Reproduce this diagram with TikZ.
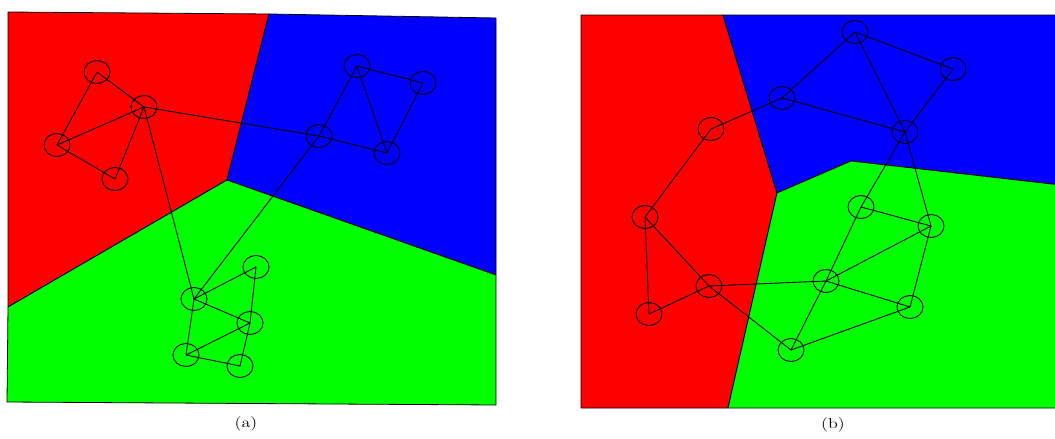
\documentclass[tikz,border=0pt]{standalone}
\usepackage{fontspec}
\usepackage{tikz}
\usetikzlibrary{shapes.geometric}

\begin{document}
\begin{tikzpicture}[
  x=1pt, y=-1pt,
  reg/.style={draw=black, line width=0.8pt, line join=round},
  vtx/.style={draw, ellipse, minimum width=26pt, minimum height=23pt, inner sep=0pt, line width=0.9pt},
  e/.style={line width=0.9pt},
  sublabel/.style={font=\fontsize{14.5}{17}\selectfont, xscale=1.25, transform shape}
]
\useasboundingbox (0,0) rectangle (1055,439);
\clip (0,0) rectangle (1055,439);
% (a)
\filldraw[reg, fill=red] (8,12) -- (269,14) -- (227,180) -- (8,307) -- cycle;
\filldraw[reg, fill=blue] (269,14) -- (496,18) -- (496,275) -- (227,180) -- cycle;
\filldraw[reg, fill=green] (8,307) -- (227,180) -- (496,275) -- (496,405) -- (7,402) -- cycle;
\node[vtx] (a1) at (97,72) {};
\node[vtx] (a2) at (144,107) {};
\node[vtx] (a3) at (57,145) {};
\node[vtx] (a4) at (115,179) {};
\node[vtx] (b1) at (357,66) {};
\node[vtx] (b2) at (423,83) {};
\node[vtx] (b3) at (319,136) {};
\node[vtx] (b4) at (387,153) {};
\node[vtx] (g1) at (194,299) {};
\node[vtx] (g2) at (256,267) {};
\node[vtx] (g3) at (250,323) {};
\node[vtx] (g4) at (186,355) {};
\node[vtx] (g5) at (240,366) {};
\draw[e] (a1.center) -- (a2.center);
\draw[e] (a1.center) -- (a3.center);
\draw[e] (a3.center) -- (a2.center);
\draw[e] (a3.center) -- (a4.center);
\draw[e] (a4.center) -- (a2.center);
\draw[e] (a2.center) -- (b3.center);
\draw[e] (a2.center) -- (g1.center);
\draw[e] (b1.center) -- (b2.center);
\draw[e] (b2.center) -- (b4.center);
\draw[e] (b1.center) -- (b4.center);
\draw[e] (b1.center) -- (b3.center);
\draw[e] (b3.center) -- (b4.center);
\draw[e] (b3.center) -- (g1.center);
\draw[e] (g1.center) -- (g2.center);
\draw[e] (g2.center) -- (g3.center);
\draw[e] (g3.center) -- (g5.center);
\draw[e] (g1.center) -- (g3.center);
\draw[e] (g3.center) -- (g4.center);
\draw[e] (g1.center) -- (g4.center);
\draw[e] (g4.center) -- (g5.center);
\node[sublabel] (capa) at (246,424) {(a)};
% (b)
\filldraw[reg, fill=red] (581,15) -- (723,15) -- (777,193) -- (728,408) -- (581,408) -- cycle;
\filldraw[reg, fill=blue] (723,15) -- (1065,15) -- (1065,185.5) -- (851,161) -- (777,193) -- cycle;
\filldraw[reg, fill=green] (777,193) -- (851,161) -- (1065,185.5) -- (1065,408) -- (728,408) -- cycle;
\node[vtx] (r1) at (711,129) {};
\node[vtx] (r2) at (645,217) {};
\node[vtx] (r3) at (709,286) {};
\node[vtx] (r4) at (649,314) {};
\node[vtx] (u1) at (855,32) {};
\node[vtx] (u2) at (953,69) {};
\node[vtx] (u3) at (782,98) {};
\node[vtx] (u4) at (905,132) {};
\node[vtx] (v1) at (861,207) {};
\node[vtx] (v2) at (931,226) {};
\node[vtx] (v3) at (826,281) {};
\node[vtx] (v4) at (910,307) {};
\node[vtx] (v5) at (791,350) {};
\draw[e] (r1.center) -- (u3.center);
\draw[e] (r1.center) -- (r2.center);
\draw[e] (r2.center) -- (r4.center);
\draw[e] (r2.center) -- (r3.center);
\draw[e] (r4.center) -- (r3.center);
\draw[e] (r3.center) -- (v5.center);
\draw[e] (r3.center) -- (v3.center);
\draw[e] (v5.center) -- (v3.center);
\draw[e] (v3.center) -- (v1.center);
\draw[e] (v1.center) -- (u4.center);
\draw[e] (v1.center) -- (v2.center);
\draw[e] (v2.center) -- (v3.center);
\draw[e] (v3.center) -- (v4.center);
\draw[e] (v2.center) -- (v4.center);
\draw[e] (v4.center) -- (v5.center);
\draw[e] (u4.center) -- (v2.center);
\draw[e] (u1.center) -- (u4.center);
\draw[e] (u2.center) -- (u4.center);
\draw[e] (u3.center) -- (u4.center);
\draw[e] (u1.center) -- (u3.center);
\draw[e] (u1.center) -- (u2.center);
\node[sublabel] (capb) at (833,425) {(b)};
\end{tikzpicture}
\end{document}
